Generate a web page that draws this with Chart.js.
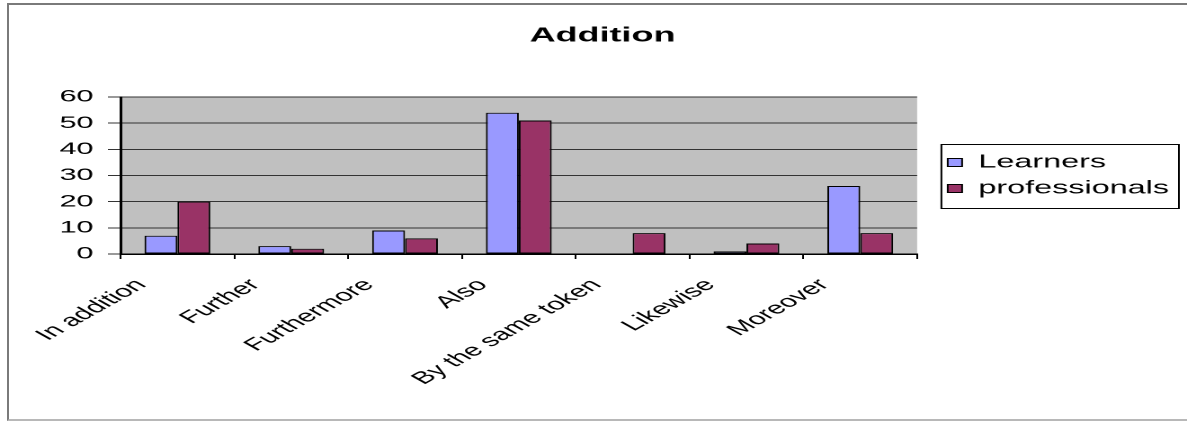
<!DOCTYPE html>
<html>
<head>
<meta charset="utf-8">
<script src="https://cdn.jsdelivr.net/npm/chart.js@4.4.1/dist/chart.umd.min.js"></script>
<style>
  html, body { margin: 0; padding: 0; background: #fff; overflow: hidden; }
  #wrap { position: relative; width: 1187px; height: 423px; }
  #chart { position: absolute; left: 0; top: 0; }
  #frame {
    position: absolute; left: 7px; top: 3px; width: 1200px; height: 414px;
    border: 2px solid #7a7a7a; border-bottom-color: #b8b8b8; pointer-events: none;
  }
</style>
</head>
<body>
<div id="wrap">
  <!-- the source picture is stretched sideways, so draw narrow and stretch with CSS -->
  <canvas id="chart" width="660" height="423" style="width:1187px;height:423px"></canvas>
  <div id="frame"></div>
</div>
<script>
const categories = ['In addition', 'Further', 'Furthermore', 'Also', 'By the same token', 'Likewise', 'Moreover'];
const learners = [7, 3, 9, 54, 0, 1, 26];
const professionals = [20, 2, 6, 51, 8, 4, 8];
const yTicks = [0, 10, 20, 30, 40, 50, 60];

Chart.defaults.font.family = "'Liberation Sans', Arial, sans-serif";
Chart.defaults.color = '#000';

// gray plot area like the old Excel default
const plotBg = {
    id: 'plotBg',
    beforeDraw(chart) {
        const { ctx, chartArea: a } = chart;
        ctx.save();
        ctx.fillStyle = '#c0c0c0';
        ctx.fillRect(a.left, a.top, a.width, a.height);
        ctx.restore();
    }
};

// box round the legend
const legendFrame = {
    id: 'legendFrame',
    afterDraw(chart) {
        const lg = chart.legend;
        const pad = lg.options.labels.padding;
        const colH = lg.columnSizes[0].height;
        const y0 = (lg.top + pad + lg.bottom - colH) / 2;
        const { ctx } = chart;
        ctx.save();
        ctx.strokeStyle = '#000';
        ctx.lineWidth = 1;
        ctx.strokeRect(lg.left + 4.5, y0 - 9, lg.width - 9, colH + 12);
        ctx.restore();
    }
};

new Chart(document.getElementById('chart'), {
    type: 'bar',
    data: {
        labels: categories,
        datasets: [{
            label: 'Learners',
            data: learners,
            backgroundColor: '#9999ff',
            borderColor: '#000',
            borderWidth: 1,
            borderSkipped: false
        }, {
            label: 'professionals',
            data: professionals,
            backgroundColor: '#993366',
            borderColor: '#000',
            borderWidth: 1,
            borderSkipped: false
        }]
    },
    options: {
        responsive: false,
        devicePixelRatio: 2,
        animation: false,
        layout: {
            padding: { top: 10, left: 10, right: 0, bottom: 18 }
        },
        datasets: {
            bar: { categoryPercentage: 0.578, barPercentage: 1 }
        },
        scales: {
            x: {
                grid: {
                    offset: true,
                    drawOnChartArea: false,
                    drawTicks: true,
                    tickLength: 5,
                    color: '#000'
                },
                border: { color: '#000', width: 1.5 },
                ticks: {
                    autoSkip: false,
                    minRotation: 45,
                    maxRotation: 45,
                    labelOffset: -20,
                    padding: 16,
                    font: { size: 17 }
                }
            },
            y: {
                min: 0,
                max: 60,
                afterBuildTicks: (scale) => { scale.ticks = yTicks.map(v => ({ value: v })); },
                afterFit: (scale) => { scale.width = 57; },
                grid: { color: '#333', lineWidth: 1, tickLength: 7, tickColor: '#333' },
                border: { color: '#000', width: 1.5 },
                ticks: { padding: 8, font: { size: 17 } }
            },
            gap: {
                type: 'linear',
                position: 'right',
                grid: { display: false },
                border: { display: false },
                ticks: { display: false },
                afterFit: (scale) => { scale.width = 9; }
            }
        },
        plugins: {
            title: {
                display: true,
                text: 'Addition',
                color: '#000',
                font: { size: 20, weight: 'bold' },
                padding: { top: 14, bottom: 49 }
            },
            legend: {
                position: 'right',
                align: 'center',
                fullSize: false,
                maxWidth: 150,
                labels: {
                    boxWidth: 8,
                    boxHeight: 8,
                    padding: 8,
                    color: '#000',
                    font: { size: 18 }
                }
            },
            tooltip: { enabled: false }
        }
    },
    plugins: [plotBg, legendFrame]
});
</script>
</body>
</html>
